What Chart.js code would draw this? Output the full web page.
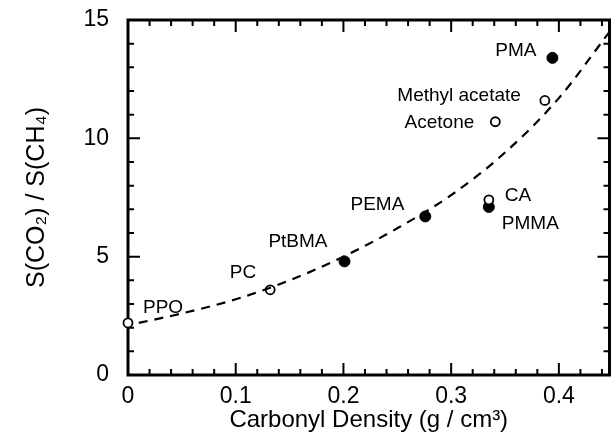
<!DOCTYPE html>
<html>
<head>
<meta charset="utf-8">
<script src="https://cdn.jsdelivr.net/npm/chart.js"></script>
<style>
  html, body { margin: 0; padding: 0; background: #fff; overflow: hidden; }
  #wrap { width: 616px; height: 435px; }
</style>
</head>
<body>
<div id="wrap"><canvas id="selChart"></canvas></div>
<script>
// open circles
const openNames = ['PPO', 'PC', 'CA', 'Acetone', 'Methyl acetate'];
const openX = [0, 0.132, 0.335, 0.341, 0.387];
const openY = [2.2, 3.6, 7.4, 10.7, 11.6];

// filled circles
const filledNames = ['PtBMA', 'PEMA', 'PMMA', 'PMA'];
const filledX = [0.201, 0.276, 0.335, 0.394];
const filledY = [4.8, 6.7, 7.1, 13.4];

// dashed trend curve
const curveX = [0.01, 0.05, 0.1, 0.15, 0.2, 0.25, 0.3, 0.35, 0.4, 0.447];
const curveY = [2.2, 2.6, 3.2, 4.0, 5.0, 6.2, 7.6, 9.4, 11.7, 14.5];

// tick labels
const xTickValues = [0, 0.1, 0.2, 0.3, 0.4];
const xTickLabels = ['0', '0.1', '0.2', '0.3', '0.4'];
const yTickValues = [0, 5, 10, 15];
const yTickLabels = ['0', '5', '10', '15'];

const FONT = 'Liberation Sans, Arial, Helvetica, sans-serif';

// where each name sits relative to its point
const labelPos = {
    'PPO': { dx: 15, dy: -15, align: 'left' },
    'PC': { dx: -14, dy: -17, align: 'right' },
    'CA': { dx: 16, dy: -4, align: 'left' },
    'Acetone': { dx: -21, dy: 1, align: 'right' },
    'Methyl acetate': { dx: -24, dy: -5, align: 'right' },
    'PtBMA': { dx: -17, dy: -20, align: 'right' },
    'PEMA': { dx: -21, dy: -12, align: 'right' },
    'PMMA': { dx: 13, dy: 17, align: 'left' },
    'PMA': { dx: -16, dy: -7, align: 'right' }
};

const toPoints = (xs, ys) => xs.map((v, i) => ({ x: v, y: ys[i] }));

// frame with inward ticks on all four sides
const frameTicks = {
    id: 'frameTicks',
    beforeDatasetsDraw(chart) {
        const { ctx, chartArea: a, scales: { x, y } } = chart;
        ctx.save();
        ctx.strokeStyle = '#000';
        ctx.lineWidth = 3;
        ctx.strokeRect(a.left, a.top, a.right - a.left, a.bottom - a.top);
        ctx.lineWidth = 2;
        ctx.beginPath();
        for (let i = 0; i <= 25; i++) {
            const px = x.getPixelForValue(i * 0.02);
            if (px > a.right - 2) break;
            const len = i % 5 === 0 ? 12 : 6;
            ctx.moveTo(px, a.bottom); ctx.lineTo(px, a.bottom - len);
            ctx.moveTo(px, a.top); ctx.lineTo(px, a.top + len);
        }
        for (let v = 0; v <= 15; v++) {
            const py = y.getPixelForValue(v);
            const len = v % 5 === 0 ? 12 : 6;
            ctx.moveTo(a.left, py); ctx.lineTo(a.left + len, py);
            ctx.moveTo(a.right, py); ctx.lineTo(a.right - len, py);
        }
        ctx.stroke();
        ctx.restore();
    }
};

// names next to the points
const pointNames = {
    id: 'pointNames',
    afterDatasetsDraw(chart) {
        const { ctx, scales: { x, y } } = chart;
        ctx.save();
        ctx.fillStyle = '#000';
        ctx.font = '19px ' + FONT;
        ctx.textBaseline = 'middle';
        const put = (names, xs, ys) => {
            names.forEach((n, i) => {
                const p = labelPos[n];
                ctx.textAlign = p.align;
                ctx.fillText(n, x.getPixelForValue(xs[i]) + p.dx, y.getPixelForValue(ys[i]) + p.dy);
            });
        };
        put(openNames, openX, openY);
        put(filledNames, filledX, filledY);
        ctx.restore();
    }
};

const ctx1 = document.getElementById('selChart').getContext('2d');
const selChart = new Chart(ctx1, {
    type: 'scatter',
    data: {
        datasets: [{
            label: 'fit',
            type: 'line',
            data: toPoints(curveX, curveY),
            borderColor: '#000',
            borderWidth: 2.2,
            borderDash: [9, 7],
            pointRadius: 0,
            fill: false,
            cubicInterpolationMode: 'monotone',
            clip: false
        }, {
            label: 'open',
            data: toPoints(openX, openY),
            pointRadius: 4.5,
            pointBorderWidth: 1.8,
            pointBackgroundColor: '#fff',
            pointBorderColor: '#000',
            clip: false
        }, {
            label: 'filled',
            data: toPoints(filledX, filledY),
            pointRadius: 5.5,
            pointBorderWidth: 1,
            pointBackgroundColor: '#000',
            pointBorderColor: '#000',
            clip: false
        }]
    },
    options: {
        responsive: true,
        maintainAspectRatio: false,
        animation: false,
        layout: { padding: { top: 20, right: 3, left: 0, bottom: 0 } },
        plugins: {
            legend: { display: false },
            tooltip: { enabled: false }
        },
        scales: {
            x: {
                type: 'linear',
                min: 0,
                max: 0.447,
                grid: { display: false },
                border: { display: false },
                afterFit: s => { s.height = 60; s.paddingLeft = 0; s.paddingRight = 0; },
                afterBuildTicks: s => { s.ticks = xTickValues.map(v => ({ value: v })); },
                ticks: {
                    padding: 0,
                    color: '#000',
                    font: { family: FONT, size: 23 },
                    maxRotation: 0,
                    callback: (v) => xTickLabels[xTickValues.indexOf(v)]
                },
                title: {
                    display: true,
                    text: 'Carbonyl Density (g / cm³)',
                    color: '#000',
                    font: { family: FONT, size: 24 },
                    padding: { top: 0, bottom: 0 }
                }
            },
            y: {
                min: 0,
                max: 15,
                grid: { display: false },
                border: { display: false },
                afterFit: s => { s.width = 128; s.paddingTop = 0; s.paddingBottom = 0; },
                afterBuildTicks: s => { s.ticks = yTickValues.map(v => ({ value: v })); },
                ticks: {
                    padding: 11,
                    color: '#000',
                    font: { family: FONT, size: 23 },
                    callback: (v) => yTickLabels[yTickValues.indexOf(v)]
                },
                title: {
                    display: true,
                    text: 'S(CO₂) / S(CH₄)',
                    color: '#000',
                    font: { family: FONT, size: 25 },
                    padding: { top: 22, bottom: 0 }
                }
            }
        }
    },
    plugins: [frameTicks, pointNames]
});
</script>
</body>
</html>
